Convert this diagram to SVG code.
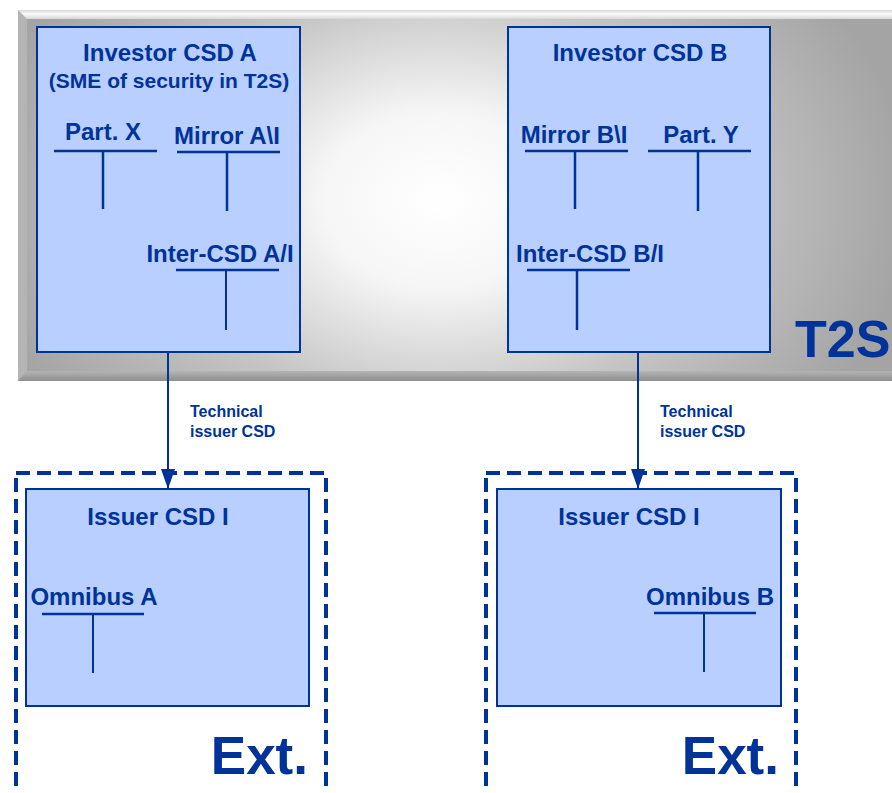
<svg xmlns="http://www.w3.org/2000/svg" width="892" height="793" viewBox="0 0 892 793">
<defs>
<radialGradient id="bg" cx="440" cy="200" r="470" gradientUnits="userSpaceOnUse" gradientTransform="translate(440 200) scale(1 0.75) translate(-440 -200)">
<stop offset="0" stop-color="#FFFFFF"/>
<stop offset="0.25" stop-color="#F6F6F6"/>
<stop offset="0.6" stop-color="#C4C4C4"/>
<stop offset="1" stop-color="#A4A4A4"/>
</radialGradient>
<linearGradient id="topbev" x1="0" y1="0" x2="0" y2="1">
<stop offset="0" stop-color="#D8D8D8"/>
<stop offset="0.4" stop-color="#FAFAFA"/>
<stop offset="1" stop-color="#D0D0D0"/>
</linearGradient>
<linearGradient id="botbev" x1="0" y1="0" x2="0" y2="1">
<stop offset="0" stop-color="#B8B8B8"/>
<stop offset="1" stop-color="#8E8E8E"/>
</linearGradient>
<marker id="arrow" viewBox="0 0 20 14" refX="20" refY="7" markerWidth="20" markerHeight="14" markerUnits="userSpaceOnUse" orient="auto">
<path d="M0,0 L20,7 L0,14 z" fill="#003399"/>
</marker>
</defs>
<style>
.box{fill:#B8CFFF;stroke:#003399;stroke-width:2}
.t{font-family:"Liberation Sans",Arial,sans-serif;font-weight:bold;fill:#003399}
.h{font-size:24px}
.s{font-size:24px}
.acc{stroke:#003399;stroke-width:2.5;fill:none}
.accv{stroke:#003399;stroke-width:2;fill:none}
.dash{fill:none;stroke:#003399;stroke-width:4;stroke-dasharray:14 7}
.conn{stroke:#003399;stroke-width:2;fill:none}
.big{font-size:53px}
.lab{font-size:16px}
</style>
<rect width="892" height="793" fill="#FFFFFF"/>
<g id="t2s">
<rect x="18" y="10" width="880" height="371" fill="#A8A8A8"/>
<rect x="18" y="10" width="880" height="10" fill="url(#topbev)"/>
<rect x="18" y="370" width="880" height="11" fill="url(#botbev)"/>
<polygon points="18,10 27,19 27,371 18,381" fill="#B4B4B4"/>
<rect x="27" y="19" width="870" height="352" fill="url(#bg)"/>
<text class="t" font-size="52" x="795" y="357">T2S</text>
</g>
<g id="investorA">
<rect class="box" x="37" y="27" width="263" height="325"/>
<text class="t h" x="170" y="61" text-anchor="middle">Investor CSD A</text>
<text class="t" font-size="21" x="169" y="88" text-anchor="middle">(SME of security in T2S)</text>
<text class="t s" x="103" y="140" text-anchor="middle">Part. X</text>
<path class="acc" d="M54,151 H157"/><path class="acc" d="M103,151 V209"/>
<text class="t s" x="227" y="144" text-anchor="middle">Mirror A\I</text>
<path class="acc" d="M177,152 H280"/><path class="acc" d="M227,152 V211"/>
<text class="t s" x="220" y="262" text-anchor="middle">Inter-CSD A/I</text>
<path class="acc" d="M176,270 H279"/><path class="accv" d="M226,270 V330"/>
</g>
<g id="investorB">
<rect class="box" x="508" y="27" width="262" height="325"/>
<text class="t h" x="640" y="61" text-anchor="middle">Investor CSD B</text>
<text class="t s" x="574" y="143" text-anchor="middle">Mirror B\I</text>
<path class="acc" d="M525,151 H628"/><path class="acc" d="M575,151 V209"/>
<text class="t s" x="701" y="143" text-anchor="middle">Part. Y</text>
<path class="acc" d="M648,151 H751"/><path class="acc" d="M698,151 V211"/>
<text class="t s" x="590" y="262" text-anchor="middle">Inter-CSD B/I</text>
<path class="acc" d="M527,270 H630"/><path class="acc" d="M577,270 V330"/>
</g>
<g id="extA">
<rect class="dash" x="16" y="473" width="310" height="340"/>
<text class="t big" x="308" y="774" text-anchor="end">Ext.</text>
</g>
<g id="issuerA">
<rect class="box" x="26" y="489" width="283" height="217"/>
<text class="t h" x="158" y="525" text-anchor="middle">Issuer CSD I</text>
<text class="t s" x="94" y="605" text-anchor="middle">Omnibus A</text>
<path class="acc" d="M42,614 H144"/><path class="accv" d="M93,614 V673"/>
</g>
<g id="extB">
<rect class="dash" x="486" y="473" width="310" height="340"/>
<text class="t big" x="779" y="774" text-anchor="end">Ext.</text>
</g>
<g id="issuerB">
<rect class="box" x="497" y="489" width="284" height="217"/>
<text class="t h" x="629" y="525" text-anchor="middle">Issuer CSD I</text>
<text class="t s" x="710" y="605" text-anchor="middle">Omnibus B</text>
<path class="acc" d="M654,613 H756"/><path class="accv" d="M704,613 V672"/>
</g>
<g id="connectors">
<path class="conn" d="M168,352 V489" marker-end="url(#arrow)"/>
<text class="t lab" x="190" y="417">Technical</text>
<text class="t lab" x="190" y="437">issuer CSD</text>
<path class="conn" d="M638,352 V489" marker-end="url(#arrow)"/>
<text class="t lab" x="660" y="417">Technical</text>
<text class="t lab" x="660" y="437">issuer CSD</text>
</g>
</svg>
